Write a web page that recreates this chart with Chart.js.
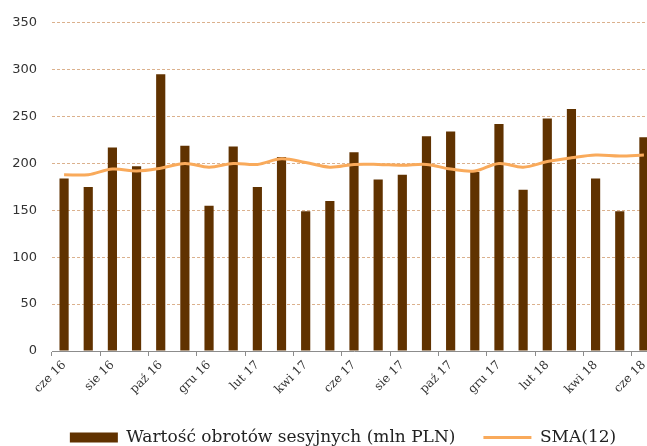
<!DOCTYPE html>
<html>
<head>
<meta charset="utf-8">
<script src="https://cdn.jsdelivr.net/npm/chart.js@4/dist/chart.umd.min.js"></script>
<style>
html,body{margin:0;padding:0;overflow:hidden;background:#fff;width:647px;height:446px;}
#wrap{position:absolute;left:0;top:0;width:686px;height:456px;}
</style>
</head>
<body>
<div id="wrap"><canvas id="c" width="686" height="456"></canvas></div>
<script>
const categories = ["cze 16","lip 16","sie 16","wrz 16","paź 16","lis 16","gru 16","sty 17","lut 17","mar 17","kwi 17","maj 17","cze 17","lip 17","sie 17","wrz 17","paź 17","lis 17","gru 17","sty 18","lut 18","mar 18","kwi 18","maj 18","cze 18"];
const turnover = [184,175,217,197,295,219,155,218,175,207,149,160,212,183,188,229,234,191,242,172,248,258,184,149,228];
const sma12 = [188,188,194,192,195,200,196,200,199,205,201,196,199,199,198,199,194,192,200,196,202,206,209,208,209];
const yTicks = [0,50,100,150,200,250,300,350];
const seriesNames = ["Wartość obrotów sesyjnych (mln PLN)","SMA(12)"];

const ctx = document.getElementById('c').getContext('2d');
new Chart(ctx, {
  type: 'bar',
  data: {
    labels: categories,
    datasets: [
      {
        label: seriesNames[0],
        data: turnover,
        backgroundColor: '#603200',
        borderWidth: 0,
        barPercentage: 0.38,
        categoryPercentage: 1.0,
        order: 1,
        pointStyle: 'rect'
      },
      {
        type: 'line',
        label: seriesNames[1],
        data: sma12,
        borderColor: '#F9AA5B',
        backgroundColor: '#F9AA5B',
        borderWidth: 3,
        pointRadius: 0,
        tension: 0.35,
        fill: false,
        order: 0,
        pointStyle: 'line'
      }
    ]
  },
  options: {
    responsive: false,
    devicePixelRatio: 1,
    animation: false,
    layout: { padding: { top: 22, left: 0, right: 0, bottom: 0 } },
    plugins: {
      tooltip: { enabled: false },
      legend: {
        position: 'bottom',
        labels: {
          usePointStyle: true,
          pointStyleWidth: 48,
          boxHeight: 10,
          padding: 28,
          color: '#222',
          font: { family: 'DejaVu Serif', size: 17 },
          sort: (a, b) => a.datasetIndex - b.datasetIndex
        }
      }
    },
    scales: {
      x: {
        offset: true,
        grid: {
          offset: true,
          drawOnChartArea: false,
          drawTicks: true,
          tickLength: 5,
          color: (c) => (c.index % 2 === 0 ? '#8c8c8c' : 'rgba(0,0,0,0)')
        },
        border: { display: true, color: '#8c8c8c', width: 1 },
        ticks: {
          autoSkip: false,
          maxRotation: 45,
          minRotation: 45,
          color: '#333',
          font: { family: 'DejaVu Serif', size: 12 },
          padding: 2,
          callback: function (v, i) { return i % 2 === 0 ? categories[i] : ''; }
        },
        afterFit: (s) => { s.height = 50; }
      },
      y: {
        min: 0,
        max: 350,
        afterBuildTicks: (s) => { s.ticks = yTicks.map(v => ({ value: v })); },
        grid: {
          drawTicks: false,
          color: (c) => (c.tick && c.tick.value === 0 ? 'rgba(0,0,0,0)' : '#DBB18D'),
          lineWidth: 1
        },
        border: { display: false, dash: [3, 2] },
        ticks: {
          color: '#333',
          font: { family: 'DejaVu Sans', size: 13 },
          padding: 15
        },
        afterFit: (s) => { s.width = 52; }
      },
      y2: {
        position: 'right',
        display: true,
        grid: { display: false },
        border: { display: false },
        ticks: { display: false },
        afterFit: (s) => { s.width = 30; }
      }
    }
  }
});
</script>
</body>
</html>
